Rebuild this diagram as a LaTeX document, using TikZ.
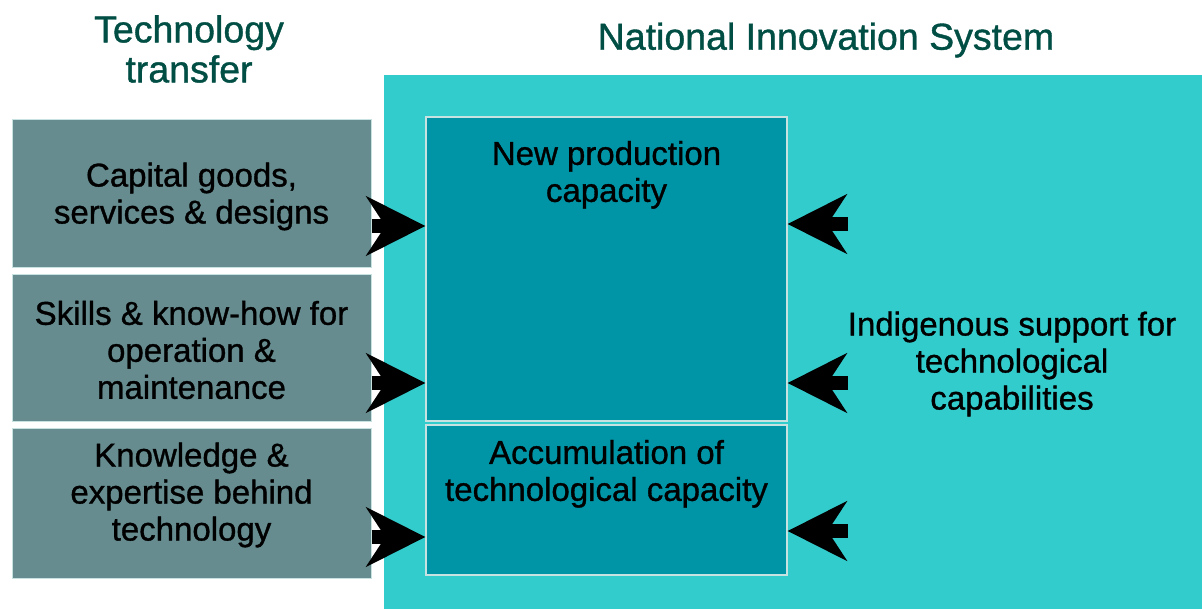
\documentclass[tikz,border=0pt]{standalone}
\usepackage{fontspec}
\setmainfont{Liberation Sans}
\newfontfamily\heavyfont{Liberation Sans}[FakeBold=1]
\usepackage{tikz}
\usetikzlibrary{arrows.meta,positioning}
\definecolor{sys_cyan}{RGB}{51,204,204}
\definecolor{tt_gray}{RGB}{102,140,143}
\definecolor{cap_teal}{RGB}{0,149,166}
\definecolor{head_green}{RGB}{0,78,68}
\definecolor{edge_light}{RGB}{200,225,225}

\begin{document}
\begin{tikzpicture}[x=1pt,y=-1pt]
    \tikzstyle{body}=[font=\heavyfont\fontsize{33}{37}\selectfont, align=center, text=black]
    \tikzstyle{head}=[font=\heavyfont\fontsize{37.5}{40}\selectfont, align=center, text=head_green]
    \tikzstyle{ttbox}=[draw=edge_light, line width=1pt, fill=tt_gray, inner sep=0pt, minimum width=359pt]
    \tikzstyle{capbox}=[draw=edge_light, line width=1.2pt, fill=cap_teal, inner sep=0pt, minimum width=361pt]
    \tikzstyle{big}=[line width=14pt, -{Stealth[length=59pt,width=59pt,inset=19pt]}]

    \useasboundingbox (0,0) rectangle (1202,609);
    \fill[sys_cyan] (384,75) rectangle (1202,609);

    % titles
    \node[head] (tt) at (189,49) {Technology\\transfer};
    \node[head] (nis) at (826,40) {National Innovation System};

    % technology transfer boxes
    \node[ttbox, minimum height=148pt] (cap) at (191.5,194) {};
    \node[ttbox, minimum height=146pt] (skl) at (191.5,348) {};
    \node[ttbox, minimum height=150pt] (knw) at (191.5,503) {};
    \node[body] (capt) at ([yshift=-2.5pt]cap) {Capital goods,\\services \& designs};
    \node[body] (sklt) at ([yshift=-2pt]skl) {Skills \& know-how for\\operation \&\\maintenance};
    \node[body] (knwt) at ([yshift=8pt]knw) {Knowledge \&\\expertise behind\\technology};

    % capacity boxes
    \node[capbox, minimum height=304pt] (prod) at (606.5,269) {};
    \node[capbox, minimum height=150pt] (accu) at (606.5,500) {};
    \node[body, anchor=north] (prodt) at ([yshift=-21pt]prod.north) {New production\\capacity};
    \node[body, anchor=north] (accut) at ([yshift=-12pt]accu.north) {Accumulation of\\technological capacity};

    \node[body] (ind) at (1012,364) {Indigenous support for\\technological\\capabilities};
    \coordinate (r1) at (848,224);
    \coordinate (r2) at (848,383);
    \coordinate (r3) at (848,531);

    % arrows
    \draw[big] ([yshift=-32pt]cap.east) -- ([yshift=-32pt]cap.east -| prod.west);
    \draw[big] ([yshift=-35pt]skl.east) -- ([yshift=-35pt]skl.east -| prod.west);
    \draw[big] ([yshift=-34pt]knw.east) -- ([yshift=-34pt]knw.east -| accu.west);
    \draw[big] (r1) -- (r1 -| prod.east);
    \draw[big] (r2) -- (r2 -| prod.east);
    \draw[big] (r3) -- (r3 -| accu.east);
\end{tikzpicture}
\end{document}
